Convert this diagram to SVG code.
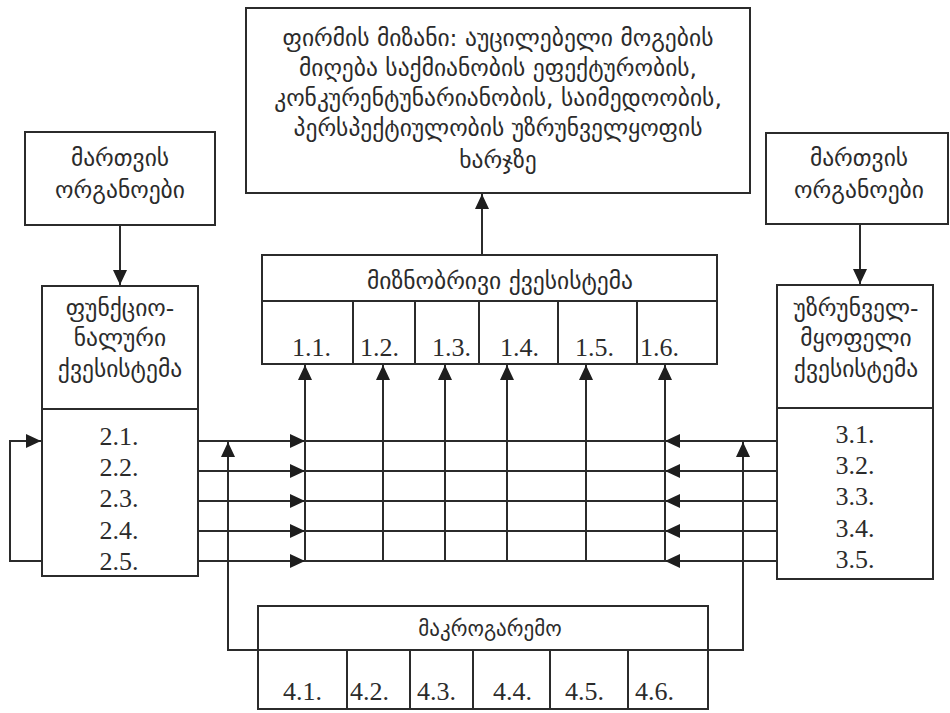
<svg xmlns="http://www.w3.org/2000/svg" width="950" height="713" viewBox="0 0 950 713">
<style>
.box{fill:#fff;stroke:#2b2b2b;stroke-width:2}
.ln{fill:none;stroke:#2b2b2b;stroke-width:2}
.ka{font-family:"DejaVu Sans",sans-serif;font-size:23.5px;fill:#2b2b2b;text-anchor:middle}
.num{font-family:"Liberation Serif",serif;font-size:26px;fill:#2b2b2b}
.c{text-anchor:middle}
</style>
<defs>
<marker id="ah" markerUnits="userSpaceOnUse" markerWidth="16" markerHeight="14" refX="15" refY="7" orient="auto">
<path d="M0,0 L15,7 L0,14 Z" fill="#1e1e1e"/>
</marker>
</defs>
<rect width="950" height="713" fill="#fff"/>

<g id="connectors">
<line class="ln" x1="482" y1="255" x2="482" y2="194" marker-end="url(#ah)"/>
<line class="ln" x1="120" y1="225" x2="120" y2="285" marker-end="url(#ah)"/>
<line class="ln" x1="860" y1="224" x2="860" y2="284" marker-end="url(#ah)"/>
<polyline class="ln" points="42,561 10,561 10,441 41,441" marker-end="url(#ah)"/>
<line class="ln" x1="198" y1="441" x2="305" y2="441" marker-end="url(#ah)"/>
<line class="ln" x1="198" y1="471" x2="305" y2="471" marker-end="url(#ah)"/>
<line class="ln" x1="198" y1="501" x2="305" y2="501" marker-end="url(#ah)"/>
<line class="ln" x1="198" y1="531" x2="305" y2="531" marker-end="url(#ah)"/>
<line class="ln" x1="198" y1="561" x2="305" y2="561" marker-end="url(#ah)"/>
<line class="ln" x1="777" y1="441" x2="665" y2="441" marker-end="url(#ah)"/>
<line class="ln" x1="777" y1="471" x2="665" y2="471" marker-end="url(#ah)"/>
<line class="ln" x1="777" y1="501" x2="665" y2="501" marker-end="url(#ah)"/>
<line class="ln" x1="777" y1="531" x2="665" y2="531" marker-end="url(#ah)"/>
<line class="ln" x1="777" y1="561" x2="665" y2="561" marker-end="url(#ah)"/>
<line class="ln" x1="305" y1="441" x2="665" y2="441"/>
<line class="ln" x1="305" y1="471" x2="665" y2="471"/>
<line class="ln" x1="305" y1="501" x2="665" y2="501"/>
<line class="ln" x1="305" y1="531" x2="665" y2="531"/>
<line class="ln" x1="305" y1="561" x2="665" y2="561"/>
<line class="ln" x1="305" y1="562" x2="305" y2="365" marker-end="url(#ah)"/>
<line class="ln" x1="383" y1="562" x2="383" y2="365" marker-end="url(#ah)"/>
<line class="ln" x1="445" y1="562" x2="445" y2="365" marker-end="url(#ah)"/>
<line class="ln" x1="507" y1="562" x2="507" y2="365" marker-end="url(#ah)"/>
<line class="ln" x1="586" y1="562" x2="586" y2="365" marker-end="url(#ah)"/>
<line class="ln" x1="665" y1="562" x2="665" y2="365" marker-end="url(#ah)"/>
<polyline class="ln" points="258,650 228,650 228,442" marker-end="url(#ah)"/>
<polyline class="ln" points="708,650 743,650 743,442" marker-end="url(#ah)"/>
</g>

<g id="goal">
<rect class="box" x="246" y="8" width="504" height="185"/>
<text class="ka" x="498" y="46">ფირმის მიზანი: აუცილებელი მოგების</text>
<text class="ka" x="498" y="76">მიღება საქმიანობის ეფექტურობის,</text>
<text class="ka" x="498" y="106">კონკურენტუნარიანობის, საიმედოობის,</text>
<text class="ka" x="498" y="136">პერსპექტიულობის უზრუნველყოფის</text>
<text class="ka" x="498" y="168">ხარჯზე</text>
</g>

<g id="mgmt-left">
<rect class="box" x="25" y="132" width="190" height="93"/>
<text class="ka" x="120" y="166">მართვის</text>
<text class="ka" x="120" y="198">ორგანოები</text>
</g>

<g id="mgmt-right">
<rect class="box" x="766" y="133" width="182" height="91"/>
<text class="ka" x="859" y="166">მართვის</text>
<text class="ka" x="859" y="198">ორგანოები</text>
</g>

<g id="functional">
<rect class="box" x="42" y="286" width="156" height="290"/>
<line class="ln" x1="42" y1="409" x2="198" y2="409"/>
<text class="ka" x="120" y="316">ფუნქციო-</text>
<text class="ka" x="120" y="346">ნალური</text>
<text class="ka" x="120" y="377">ქვესისტემა</text>
<text class="num c" x="119" y="445">2.1.</text>
<text class="num c" x="119" y="476">2.2.</text>
<text class="num c" x="119" y="507">2.3.</text>
<text class="num c" x="119" y="539">2.4.</text>
<text class="num c" x="119" y="570">2.5.</text>
</g>

<g id="support">
<rect class="box" x="777" y="285" width="156" height="294"/>
<line class="ln" x1="777" y1="408" x2="933" y2="408"/>
<text class="ka" x="856" y="316">უზრუნველ-</text>
<text class="ka" x="856" y="346">მყოფელი</text>
<text class="ka" x="856" y="377">ქვესისტემა</text>
<text class="num c" x="855" y="443">3.1.</text>
<text class="num c" x="855" y="474">3.2.</text>
<text class="num c" x="855" y="505">3.3.</text>
<text class="num c" x="855" y="537">3.4.</text>
<text class="num c" x="855" y="568">3.5.</text>
</g>

<g id="target">
<rect class="box" x="262" y="255" width="455" height="109"/>
<line class="ln" x1="262" y1="301" x2="717" y2="301"/>
<line class="ln" x1="353" y1="301" x2="353" y2="364"/>
<line class="ln" x1="415" y1="301" x2="415" y2="364"/>
<line class="ln" x1="479" y1="301" x2="479" y2="364"/>
<line class="ln" x1="558" y1="301" x2="558" y2="364"/>
<line class="ln" x1="637" y1="301" x2="637" y2="364"/>
<text class="ka" x="500" y="289">მიზნობრივი ქვესისტემა</text>
<text class="num" x="292" y="356">1.1.</text>
<text class="num" x="360" y="356">1.2.</text>
<text class="num" x="432" y="356">1.3.</text>
<text class="num" x="500" y="356">1.4.</text>
<text class="num" x="575" y="356">1.5.</text>
<text class="num" x="640" y="356">1.6.</text>
</g>

<g id="macro">
<rect class="box" x="258" y="606" width="450" height="103"/>
<line class="ln" x1="258" y1="650" x2="708" y2="650"/>
<line class="ln" x1="347" y1="650" x2="347" y2="709"/>
<line class="ln" x1="410" y1="650" x2="410" y2="709"/>
<line class="ln" x1="473" y1="650" x2="473" y2="709"/>
<line class="ln" x1="550" y1="650" x2="550" y2="709"/>
<line class="ln" x1="628" y1="650" x2="628" y2="709"/>
<text class="ka" x="490" y="636" style="font-size:21px">მაკროგარემო</text>
<text class="num" x="283" y="700">4.1.</text>
<text class="num" x="350" y="700">4.2.</text>
<text class="num" x="417" y="700">4.3.</text>
<text class="num" x="493" y="700">4.4.</text>
<text class="num" x="565" y="700">4.5.</text>
<text class="num" x="635" y="700">4.6.</text>
</g>
</svg>
